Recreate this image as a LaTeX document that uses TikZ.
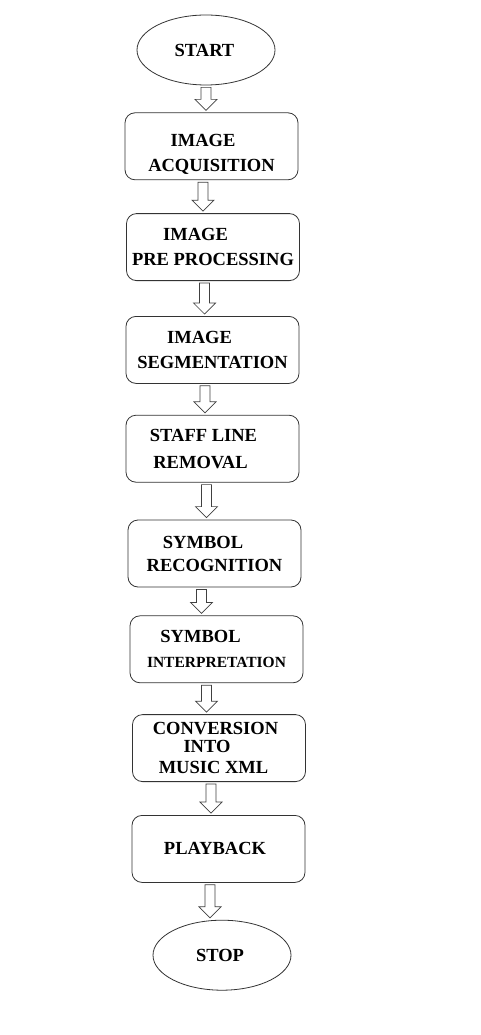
\documentclass[tikz,border=0pt]{standalone}
\usepackage{fontspec}
\setmainfont{Liberation Serif}
\usetikzlibrary{positioning,shapes.geometric,calc}

% hollow block arrow from one node down to the next
\newcommand{\flowarrow}[3][-8pt]{%
  \draw[arrowline] let \p1=($(#2.south)+(#1,-2pt)$), \p2=($(#3.north)+(0,2pt)$) in
    (\x1-5pt,\y1) -- (\x1+5pt,\y1) -- (\x1+5pt,\y2+11pt) -- (\x1+11pt,\y2+11pt)
    -- (\x1,\y2) -- (\x1-11pt,\y2+11pt) -- (\x1-5pt,\y2+11pt) -- cycle;}
% pull one text line to the left
\newcommand{\lft}[2]{#2\kern#1}

\begin{document}
\begin{tikzpicture}[node distance=33pt, font=\bfseries\fontsize{18.5}{25}\selectfont,
  stepbox/.style = {rectangle, rounded corners=10pt, draw=black!80, line width=0.8pt, minimum width=173pt, minimum height=67pt, inner sep=1pt, align=center},
  terminal/.style = {ellipse, draw=black!80, line width=0.8pt, minimum width=138pt, minimum height=70pt, inner sep=0pt},
  arrowline/.style = {draw=black!75, line width=0.7pt, fill=white}]
  \useasboundingbox (0,0) rectangle (481pt,-1035pt);
  \node[terminal] (start) at (206pt,-50pt) {\lft{3pt}{START}};
  \node[stepbox] (acq) [below=27pt of start, xshift=5.5pt] {\rule{0pt}{28pt}\lft{17pt}{IMAGE}\\ ACQUISITION};
  \node[stepbox] (pre) [below=33pt of acq, xshift=1.5pt] {\lft{35pt}{IMAGE}\\ PRE PROCESSING};
  \node[stepbox] (seg) [below=35pt of pre, xshift=-0.5pt] {\lft{26pt}{IMAGE}\\ SEGMENTATION};
  \node[stepbox] (staff) [below=31pt of seg] {\lft{18pt}{STAFF LINE}\\[2pt] \lft{24pt}{REMOVAL}};
  \node[stepbox] (recog) [below=37pt of staff, xshift=2pt] {\lft{23pt}{SYMBOL}\\[-2pt] RECOGNITION};
  \node[stepbox] (interp) [below=28pt of recog, xshift=2pt] {\lft{32pt}{SYMBOL}\\ {\fontsize{15.5}{20}\selectfont INTERPRETATION}};
  \node[stepbox] (conv) [below=31pt of interp, xshift=2.5pt] {\lft{7pt}{CONVERSION}\\[-7pt] \lft{24pt}{INTO}\\[-4pt] \lft{11pt}{MUSIC XML}};
  \node[stepbox] (play) [below=33pt of conv, xshift=-0.5pt] {\lft{7pt}{PLAYBACK}};
  \node[terminal] (stop) [below=37pt of play, xshift=3.5pt] {\lft{4pt}{STOP}};
  \foreach \a/\b/\s in {start/acq/0pt, acq/pre/-8.5pt, pre/seg/-8.5pt, seg/staff/-7.5pt,
      staff/recog/-6pt, recog/interp/-13pt, interp/conv/-10pt, conv/play/-8pt, play/stop/-8.5pt}
    \flowarrow[\s]{\a}{\b};
\end{tikzpicture}
\end{document}
